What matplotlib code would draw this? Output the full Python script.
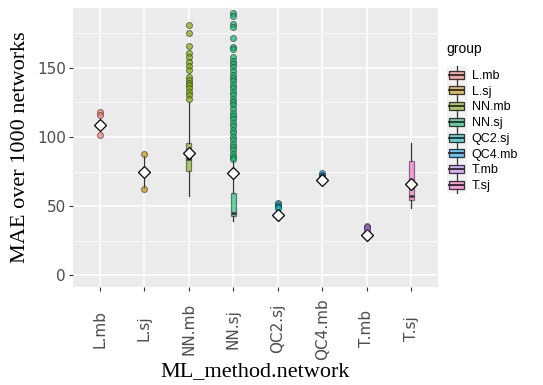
import matplotlib
matplotlib.use('Agg')
import matplotlib.pyplot as plt
from matplotlib.legend_handler import HandlerBase
from matplotlib.patches import Rectangle, Patch
from matplotlib.lines import Line2D

groups = ['L.mb', 'L.sj', 'NN.mb', 'NN.sj', 'QC2.sj', 'QC4.mb', 'T.mb', 'T.sj']
colors = ['#F8766D', '#CD9600', '#7CAE00', '#00BE67', '#00BFC4', '#00A9FF', '#C77CFF', '#FF61CC']

# box stats
whislo = [106.0, 63.0, 57.4, 39.5, 42.5, 67.5, 28.3, 48.5]
q1 = [107.5, 73.0, 75.4, 42.9, 43.0, 68.3, 28.8, 54.5]
med = [108.5, 74.5, 83.8, 45.3, 43.6, 69.0, 29.2, 57.0]
q3 = [109.5, 76.0, 95.4, 59.7, 44.2, 69.5, 29.6, 82.6]
whishi = [111.0, 86.0, 125.0, 83.0, 46.0, 70.0, 30.5, 95.4]
means = [108.6, 74.5, 88.2, 74.2, 43.6, 68.9, 29.2, 65.8]

out_lmb = [117.7, 115.7, 101.1]
out_lsj = [87.4, 62.4]
out_nnmb = [180.7, 174.7, 165.8, 160.3, 157.4, 154.2, 151.3, 148.2, 142.9, 141.0,
            139.0, 137.1, 135.0, 132.5, 130.2, 127.3]
out_nnsj = [189.2, 187.2, 181.5, 179.5, 171.6, 164.6, 163.4, 157.4, 155.0, 152.5,
            150.1, 147.3, 145.0, 142.6, 140.1, 137.5, 135.2, 132.7, 130.0, 127.6,
            125.1, 122.8, 120.2, 117.6, 115.3, 112.8, 110.1, 107.7, 105.2, 102.6,
            100.1, 97.8, 95.2, 92.7, 90.3, 87.8, 85.5, 83.8]
out_qc2 = [52.5, 51.5, 50.5, 49.5, 48.7]
out_qc4 = [73.7, 72.8, 71.8, 70.8]
out_tmb = [35.9, 35.0, 34.0, 32.8]
out_tsj = []
outliers = [out_lmb, out_lsj, out_nnmb, out_nnsj, out_qc2, out_qc4, out_tmb, out_tsj]

stats = []
for i, g in enumerate(groups):
    stats.append(dict(label=g, whislo=whislo[i], q1=q1[i], med=med[i], q3=q3[i],
                      whishi=whishi[i], mean=means[i], fliers=outliers[i]))

fig = plt.figure(figsize=(5.43, 3.85), dpi=100)
ax = fig.add_axes([73 / 543, 1 - 287 / 385, 365 / 543, 279 / 385])
ax.set_facecolor('#EBEBEB')

pos = list(range(1, len(groups) + 1))
dark = '#333333'
bp = ax.bxp(stats, positions=pos, widths=0.11, patch_artist=True, showmeans=True,
            showcaps=False,
            boxprops=dict(edgecolor=dark, linewidth=0.9),
            whiskerprops=dict(color=dark, linewidth=0.9),
            medianprops=dict(color=dark, linewidth=1.8),
            meanprops=dict(marker='D', markerfacecolor='white', markeredgecolor='black',
                           markersize=6.2, markeredgewidth=0.9),
            flierprops=dict(marker='o', markersize=4.3, markeredgewidth=0.6))
for i, c in enumerate(colors):
    bp['boxes'][i].set_facecolor(c)
    bp['boxes'][i].set_alpha(0.6)
    bp['boxes'][i].set_edgecolor(dark)
    fl = bp['fliers'][i]
    fl.set_markerfacecolor(c)
    fl.set_markeredgecolor('#2a2a2a')
    fl.set_alpha(0.7)
    fl.set_zorder(3)
    bp['means'][i].set_zorder(5)

ax.set_xlim(0.4, 8.6)
ax.set_ylim(-8.3, 193.0)
ax.set_yticks([0, 50, 100, 150])
ax.set_yticks([25, 75, 125, 175], minor=True)
ax.set_xticks(pos)
ax.set_xticklabels(groups, rotation=90, va='center')
ax.grid(True, which='major', color='white', linewidth=1.1)
ax.grid(True, which='minor', axis='y', color='white', linewidth=0.55)
ax.set_axisbelow(True)
for s in ax.spines.values():
    s.set_visible(False)
ax.tick_params(axis='both', which='major', length=3, width=0.8, color='#333333',
               labelsize=11, labelcolor='#4D4D4D', pad=2)
ax.tick_params(axis='x', which='major', pad=27)
ax.tick_params(axis='y', which='minor', length=0)

ax.set_xlabel('ML_method.network', family='Liberation Serif', fontsize=16, labelpad=2)
ax.set_ylabel('MAE over 1000 networks', family='Liberation Serif', fontsize=16, labelpad=5)


class BoxKey(HandlerBase):
    def create_artists(self, legend, orig_handle, xdescent, ydescent, width, height,
                       fontsize, trans):
        c = orig_handle.get_facecolor()
        x0, y0 = -xdescent, -ydescent
        bg = Rectangle((x0, y0 - 1.5), width, height + 3, facecolor='#F2F2F2',
                       edgecolor='none', transform=trans)
        bw, bh = width * 0.75, height * 0.62
        bx, by = x0 + (width - bw) / 2, y0 + (height - bh) / 2
        box = Rectangle((bx, by), bw, bh, facecolor=c, alpha=0.6, edgecolor='none',
                        transform=trans)
        edge = Rectangle((bx, by), bw, bh, facecolor='none', edgecolor=dark,
                         linewidth=0.9, transform=trans)
        cx, cy = x0 + width / 2, y0 + height / 2
        mline = Line2D([bx, bx + bw], [cy, cy], color=dark, linewidth=1.4, transform=trans)
        w1 = Line2D([cx, cx], [by + bh, y0 + height + 1.5], color=dark, linewidth=0.9,
                    transform=trans)
        w2 = Line2D([cx, cx], [y0 - 1.5, by], color=dark, linewidth=0.9, transform=trans)
        return [bg, box, edge, mline, w1, w2]


handles = [Patch(facecolor=c) for c in colors]
leg = fig.legend(handles, groups, title='group', loc='upper left',
                 bbox_to_anchor=(443 / 543, 1 - 38 / 385), frameon=False,
                 handler_map={Patch: BoxKey()}, handlelength=1.6, handleheight=1.2,
                 labelspacing=0.17, handletextpad=0.4, borderaxespad=0, borderpad=0.3,
                 prop={'family': 'Liberation Sans', 'size': 9})
leg.get_title().set_fontsize(10)
leg.get_title().set_family('Liberation Sans')
leg._legend_box.align = 'left'
leg._legend_box.sep = 9

fig.savefig('out.png', dpi=100)
